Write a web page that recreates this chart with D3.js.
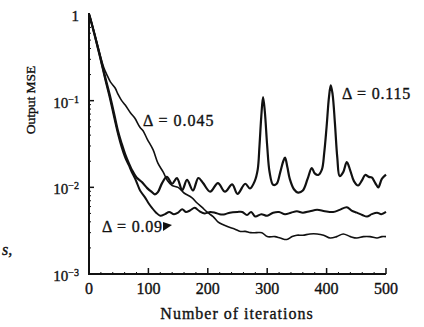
<!DOCTYPE html>
<html>
<head>
<meta charset="utf-8">
<script src="https://cdn.jsdelivr.net/npm/d3@7"></script>
<style>
  html, body { margin: 0; padding: 0; background: #fff; }
  svg { display: block; }
  text { font-family: "Liberation Serif", "Times New Roman", serif; fill: #111; stroke: #111; stroke-width: 0.35px; }
</style>
</head>
<body>
<svg id="chart" width="424" height="327"></svg>
<script>
// ---- data (iteration, output MSE) ----
const series045 = [[0,1.0],[2,0.9],[10,0.57],[18,0.35],[25,0.24],[30,0.2],[36,0.165],[44,0.14],[49,0.118],[55,0.10],[61,0.089],[70,0.072],[77,0.063],[86,0.049],[91,0.045],[98,0.036],[108,0.027],[116,0.019],[125,0.0150],[132,0.0120],[140,0.0105],[150,0.0100],[160,0.0086],[173,0.0076],[182,0.0066],[190,0.0059],[200,0.0051],[209,0.0046],[217,0.0040],[226,0.0037],[234,0.0035],[245,0.0033],[255,0.0031],[263,0.0031],[272,0.0030],[282,0.0030],[291,0.0030],[300,0.0027],[313,0.0027],[322,0.0026],[333,0.0025],[342,0.0027],[350,0.0028],[360,0.0028],[372,0.0029],[384,0.0029],[395,0.0028],[406,0.0026],[417,0.0027],[428,0.0029],[440,0.0027],[451,0.0026],[462,0.0027],[473,0.0027],[485,0.0026],[493,0.0027],[500,0.0027]];
const series09 = [[0,1.0],[2,0.9],[10,0.55],[18,0.33],[27,0.18],[35,0.108],[42,0.066],[49,0.041],[55,0.029],[61,0.022],[67,0.018],[72,0.015],[79,0.012],[86,0.0092],[94,0.0077],[100,0.0066],[106,0.0058],[113,0.0051],[120,0.0047],[128,0.0049],[135,0.0052],[143,0.0049],[150,0.0051],[157,0.0056],[163,0.0052],[170,0.0054],[178,0.0058],[186,0.0053],[195,0.0050],[204,0.0052],[212,0.0051],[220,0.0049],[229,0.0049],[237,0.0051],[250,0.0052],[258,0.0052],[266,0.0048],[273,0.0052],[280,0.0046],[290,0.0049],[300,0.0047],[310,0.0051],[320,0.0052],[330,0.0049],[340,0.0051],[350,0.0053],[360,0.0051],[372,0.0053],[384,0.0055],[397,0.0053],[411,0.0052],[422,0.0055],[434,0.0059],[442,0.0054],[451,0.0051],[460,0.0048],[468,0.0046],[476,0.0049],[485,0.0051],[492,0.0049],[500,0.0052]];
const series115 = [[0,1.0],[2,0.9],[10,0.56],[18,0.34],[27,0.19],[35,0.116],[42,0.072],[49,0.044],[55,0.032],[61,0.024],[67,0.019],[72,0.016],[80,0.013],[89,0.0115],[98,0.0098],[106,0.0088],[111,0.0083],[116,0.0088],[123,0.0112],[131,0.0132],[140,0.0110],[148,0.0128],[157,0.0093],[165,0.0122],[175,0.0092],[184,0.0128],[192,0.0112],[204,0.0089],[217,0.0112],[229,0.0089],[241,0.0108],[250,0.0084],[263,0.0110],[271,0.0097],[279,0.0118],[284,0.016],[287,0.03],[290,0.065],[293,0.11],[296,0.075],[300,0.03],[304,0.015],[310,0.0107],[316,0.0110],[322,0.0150],[327,0.020],[330,0.022],[334,0.017],[338,0.0125],[345,0.0095],[352,0.0087],[360,0.0092],[368,0.0125],[375,0.0167],[380,0.0145],[386,0.0139],[392,0.016],[396,0.025],[400,0.05],[404,0.11],[407,0.15],[410,0.12],[414,0.055],[418,0.022],[422,0.0135],[428,0.015],[434,0.0196],[440,0.0155],[446,0.0118],[453,0.0105],[460,0.0122],[465,0.0139],[471,0.0132],[476,0.0130],[482,0.0112],[487,0.0100],[493,0.0125],[500,0.0140]];

const xTicks = [0, 100, 200, 300, 400, 500];
const yTicks = [1, 1e-1, 1e-2, 1e-3];
const yTickExps = ["", "\u22121", "\u22122", "\u22123"];
const seriesLabels = ["\u0394 = 0.045", "\u0394 = 0.09", "\u0394 = 0.115"];
const xTitle = "Number of iterations";
const yTitle = "Output MSE";

// ---- drawing ----
const svg = d3.select("#chart");
const x = d3.scaleLinear().domain([0, 500]).range([89, 386]);
const y = d3.scaleLog().domain([1e-3, 1]).range([274, 14]);

const ink = "#111";

// axes lines
svg.append("line").attr("x1", x(0)).attr("x2", x(0)).attr("y1", y(1) - 1).attr("y2", y(1e-3))
  .attr("stroke", ink).attr("stroke-width", 2);
svg.append("line").attr("x1", x(0) - 1).attr("x2", x(500)).attr("y1", y(1e-3)).attr("y2", y(1e-3))
  .attr("stroke", ink).attr("stroke-width", 2);

// x ticks (inward)
svg.selectAll(".xt").data(xTicks.slice(1)).enter().append("line")
  .attr("x1", d => x(d)).attr("x2", d => x(d))
  .attr("y1", y(1e-3)).attr("y2", y(1e-3) - 6)
  .attr("stroke", ink).attr("stroke-width", 1.5);
const xMinor = d3.range(20, 500, 20).filter(d => d % 100 !== 0);
svg.selectAll(".xm").data(xMinor).enter().append("line")
  .attr("x1", d => x(d)).attr("x2", d => x(d))
  .attr("y1", y(1e-3)).attr("y2", y(1e-3) - 2)
  .attr("stroke", ink).attr("stroke-width", 1);

// y ticks (inward)
svg.selectAll(".yt").data(yTicks.slice(1, 3)).enter().append("line")
  .attr("x1", x(0)).attr("x2", x(0) + 5)
  .attr("y1", d => y(d)).attr("y2", d => y(d))
  .attr("stroke", ink).attr("stroke-width", 1.5);
const yMinor = [];
[1e-3, 1e-2, 1e-1].forEach(b => { for (let k = 2; k <= 9; k++) yMinor.push(b * k); });
svg.selectAll(".ym").data(yMinor).enter().append("line")
  .attr("x1", x(0)).attr("x2", x(0) + 2)
  .attr("y1", d => y(d)).attr("y2", d => y(d))
  .attr("stroke", ink).attr("stroke-width", 1);

// x tick labels
svg.selectAll(".xl").data(xTicks).enter().append("text")
  .attr("x", d => x(d)).attr("y", 294)
  .attr("text-anchor", "middle").attr("font-size", 16)
  .text(d => d);

// y tick labels
yTicks.forEach((t, i) => {
  const tx = svg.append("text").attr("x", 79).attr("y", y(t) + 7)
    .attr("text-anchor", "end").attr("font-size", 15);
  if (i === 0) {
    tx.text("1");
  } else {
    tx.append("tspan").text("10");
    tx.append("tspan").attr("font-size", 10).attr("dy", -5).text(yTickExps[i]);
  }
});

// axis titles
svg.append("text").attr("x", 237).attr("y", 319).attr("text-anchor", "middle")
  .attr("font-size", 16).attr("letter-spacing", 1).text(xTitle);
svg.append("text").attr("transform", "translate(35,100) rotate(-90)")
  .attr("text-anchor", "middle").attr("font-size", 13.5).text(yTitle);

// stray fragment on the left
svg.append("text").attr("x", 2).attr("y", 255).attr("font-size", 16)
  .attr("font-style", "italic").text("s,");

// curves
const line = d3.line().x(d => x(d[0])).y(d => y(d[1])).curve(d3.curveCatmullRom.alpha(0.5));
[[series045, 1.6], [series09, 2], [series115, 2.2]].forEach(([s, w]) => {
  svg.append("path").datum(s).attr("d", line)
    .attr("fill", "none").attr("stroke", ink).attr("stroke-width", w)
    .attr("stroke-linejoin", "round");
});

// series labels
svg.append("text").attr("x", 143).attr("y", 126).attr("font-size", 16).attr("letter-spacing", 1).text(seriesLabels[0]);
svg.append("text").attr("x", 102).attr("y", 232).attr("font-size", 16).attr("letter-spacing", 0.8).text(seriesLabels[1]);
svg.append("text").attr("x", 342).attr("y", 99).attr("font-size", 16).attr("letter-spacing", 0.8).text(seriesLabels[2]);

// small arrow head after the Δ = 0.09 label
svg.append("path").attr("d", "M163,222 L172,225 L163,231 Z").attr("fill", ink);
</script>
</body>
</html>
